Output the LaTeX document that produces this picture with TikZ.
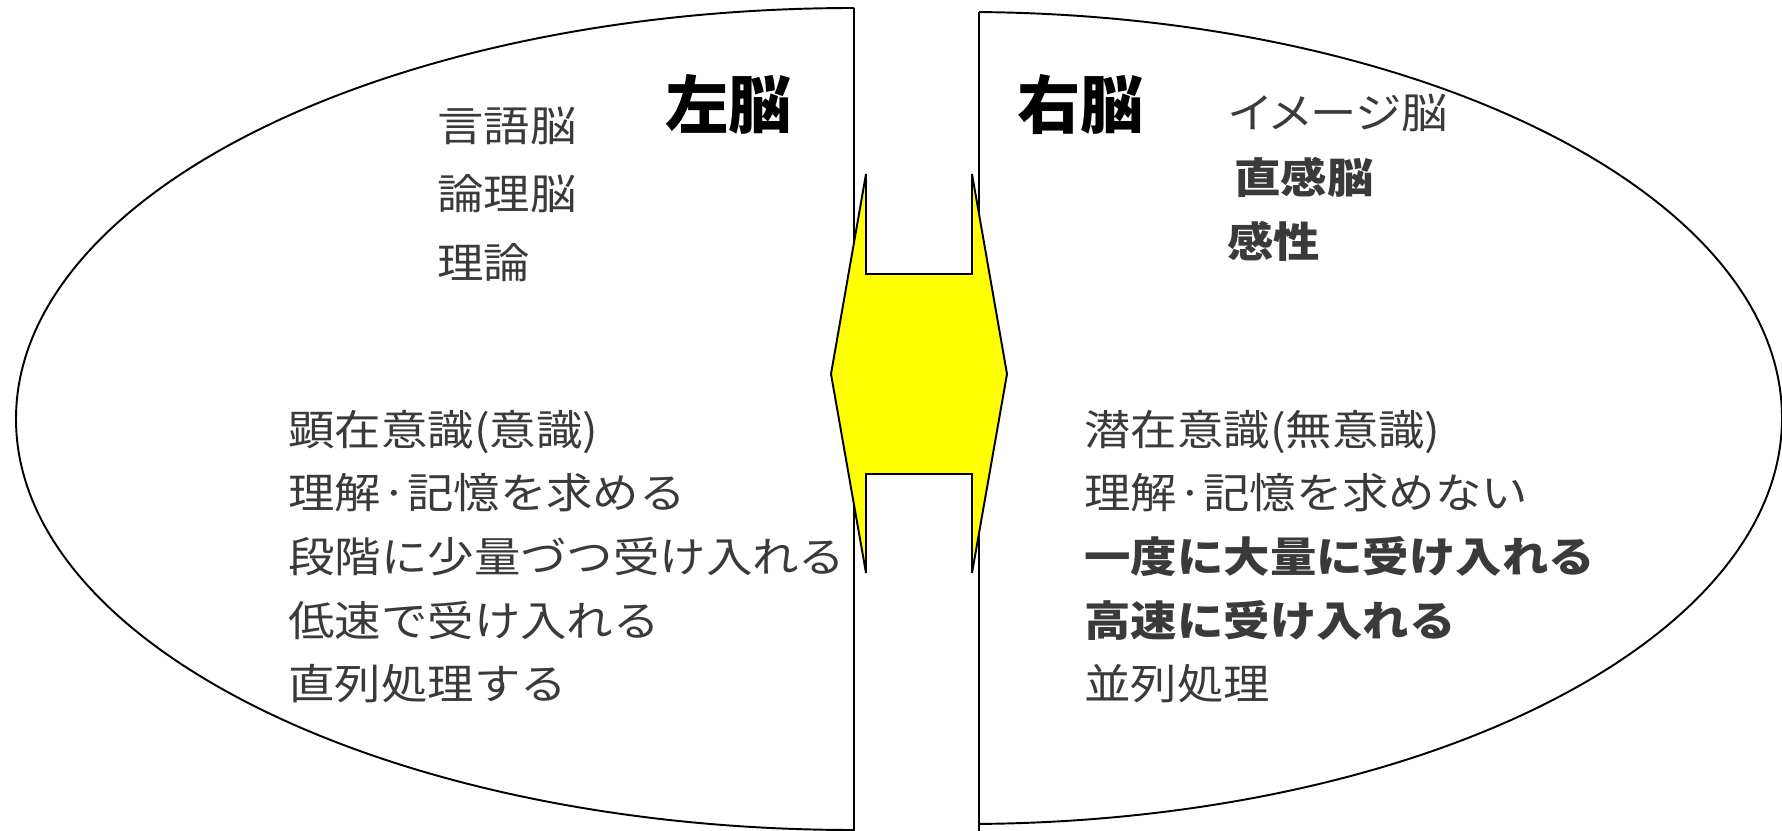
\documentclass[tikz,border=0pt]{standalone}
\usepackage{fontspec}
\newfontfamily\jpfont[FakeStretch=1.11]{Noto Sans CJK JP}
\newfontfamily\jpkana[FakeStretch=1.11,RawFeature=+palt]{Noto Sans CJK JP}
\newfontfamily\jptitle{Noto Sans CJK JP}
\definecolor{txtgray}{HTML}{3A3A3A}
\definecolor{arrowyellow}{HTML}{FFFF00}

\begin{document}
\begin{tikzpicture}[x=0.02cm,y=-0.02cm,
  brain/.style={line width=1.1pt},
  body/.style={inner sep=0pt,anchor=base west,text=txtgray,font=\jpfont\fontsize{23.8pt}{28pt}\selectfont},
  bodybf/.style={body,font=\jpfont\bfseries\fontsize{23.8pt}{28pt}\selectfont},
  title/.style={inner sep=0pt,anchor=base west,font=\jptitle\bfseries\fontsize{36pt}{40pt}\selectfont}]
\useasboundingbox (0,0) rectangle (1782,831);
% left half
\begin{scope}
\clip (0,0) rectangle (854,831);
\draw[brain] (854,419) ellipse [x radius=838,y radius=411];
\end{scope}
\draw[brain] (854,8) -- (854,831);
% right half
\begin{scope}
\clip (979,0) rectangle (1782,831);
\draw[brain] (965,418) ellipse [x radius=817,y radius=406];
\end{scope}
\draw[brain] (979,12) -- (979,831);
% double arrow
\draw[brain,fill=arrowyellow] (831,374) -- (866,174) -- (866,274) -- (972,274) -- (972,174)
  -- (1007,374) -- (972,573) -- (972,474) -- (866,474) -- (866,573) -- cycle;

\node[title] (left) at (665,129) {左脳};
\node[title] (right) at (1017,129) {右脳};

\foreach \txt [count=\i] in {言語脳,論理脳,理論}
  \node[body] (lt\i) at (437,{142+68*(\i-1)}) {\txt};
\node[body,font=\jpkana\fontsize{23.8pt}{28pt}\selectfont] (rt1) at (1229,129) {イメージ脳};
\node[bodybf] (rt2) at (1234,194) {直感脳};
\node[bodybf] (rt3) at (1227,257) {感性};

\foreach \txt [count=\i] in {顕在意識(意識),理解·記憶を求める,段階に少量づつ受け入れる,低速で受け入れる,直列処理する}
  \node[body] (lb\i) at (288,{445+63.7*(\i-1)}) {\txt};
\foreach \txt/\sty [count=\i] in {潜在意識(無意識)/body,理解·記憶を求めない/body,一度に大量に受け入れる/bodybf,高速に受け入れる/bodybf,並列処理/body}
  \node[\sty] (rb\i) at (1084,{445+63.7*(\i-1)}) {\txt};
\end{tikzpicture}
\end{document}
